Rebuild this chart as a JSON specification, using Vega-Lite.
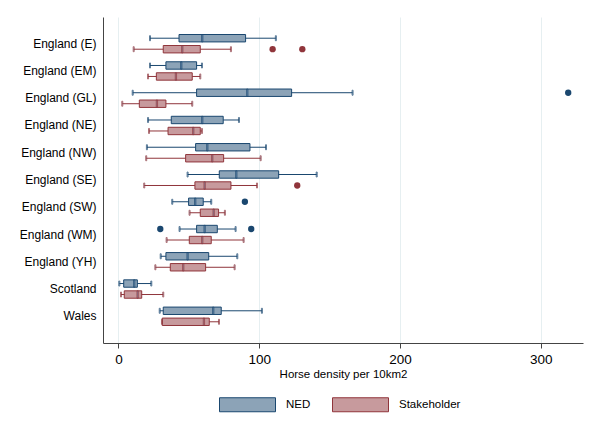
{
  "$schema": "https://vega.github.io/schema/vega-lite/v6.json",
  "width": 480,
  "height": 326,
  "autosize": "none",
  "padding": {"left": 103, "top": 17, "right": 17, "bottom": 94},
  "background": "white",
  "config": {
    "view": {"stroke": null},
    "font": "Liberation Sans",
    "axis": {"labelFont": "Liberation Sans", "titleFont": "Liberation Sans", "labelColor": "#000", "titleColor": "#000", "domainColor": "#444", "tickColor": "#444"},
    "legend": {"labelFont": "Liberation Sans", "labelFontSize": 11.5, "labelColor": "#000"}
  },
  "datasets": {
    "boxes": [
      {"region": "England (E)", "group": "NED", "wlo": 22.4, "q1": 43, "med": 59.5, "q3": 90.3, "whi": 111.8},
      {"region": "England (E)", "group": "Stakeholder", "wlo": 10.8, "q1": 31.8, "med": 45.3, "q3": 58.1, "whi": 79.9},
      {"region": "England (EM)", "group": "NED", "wlo": 22.4, "q1": 33.7, "med": 44.6, "q3": 55.5, "whi": 59.3},
      {"region": "England (EM)", "group": "Stakeholder", "wlo": 21, "q1": 26.9, "med": 40.8, "q3": 52.4, "whi": 58.1},
      {"region": "England (GL)", "group": "NED", "wlo": 10.1, "q1": 55.5, "med": 91.5, "q3": 123, "whi": 166.3},
      {"region": "England (GL)", "group": "Stakeholder", "wlo": 2.7, "q1": 14.8, "med": 27.3, "q3": 33.7, "whi": 52.4},
      {"region": "England (NE)", "group": "NED", "wlo": 21, "q1": 37.5, "med": 59.5, "q3": 74.4, "whi": 85.6},
      {"region": "England (NE)", "group": "Stakeholder", "wlo": 21.7, "q1": 35.2, "med": 53.1, "q3": 58.1, "whi": 59.3},
      {"region": "England (NW)", "group": "NED", "wlo": 20.2, "q1": 54.8, "med": 63.1, "q3": 93.4, "whi": 104.8},
      {"region": "England (NW)", "group": "Stakeholder", "wlo": 19.7, "q1": 47.7, "med": 66.6, "q3": 74.7, "whi": 101},
      {"region": "England (SE)", "group": "NED", "wlo": 49.1, "q1": 71.6, "med": 83.7, "q3": 113.8, "whi": 140.8},
      {"region": "England (SE)", "group": "Stakeholder", "wlo": 18.3, "q1": 54.3, "med": 61.2, "q3": 79.9, "whi": 98.4},
      {"region": "England (SW)", "group": "NED", "wlo": 38.2, "q1": 49.8, "med": 54.5, "q3": 60.2, "whi": 65.9},
      {"region": "England (SW)", "group": "Stakeholder", "wlo": 50.5, "q1": 58.1, "med": 67.6, "q3": 71.1, "whi": 75.6},
      {"region": "England (WM)", "group": "NED", "wlo": 43.4, "q1": 55.5, "med": 61.2, "q3": 70.2, "whi": 83.2},
      {"region": "England (WM)", "group": "Stakeholder", "wlo": 34.2, "q1": 50.3, "med": 59.5, "q3": 65.9, "whi": 88.9},
      {"region": "England (YH)", "group": "NED", "wlo": 30, "q1": 33.7, "med": 49.1, "q3": 64.1, "whi": 84.4},
      {"region": "England (YH)", "group": "Stakeholder", "wlo": 26.2, "q1": 36.8, "med": 46, "q3": 61.9, "whi": 82.5},
      {"region": "Scotland", "group": "NED", "wlo": 0.6, "q1": 3.7, "med": 11.2, "q3": 13.4, "whi": 23.3},
      {"region": "Scotland", "group": "Stakeholder", "wlo": 1.8, "q1": 4.1, "med": 13.6, "q3": 16.5, "whi": 31.8},
      {"region": "Wales", "group": "NED", "wlo": 29.3, "q1": 31.8, "med": 67.3, "q3": 73, "whi": 101.9},
      {"region": "Wales", "group": "Stakeholder", "wlo": 30.9, "q1": 31.1, "med": 60.7, "q3": 64.5, "whi": 71.4}
    ],
    "outliers": [
      {"region": "England (E)", "group": "Stakeholder", "value": 109.5},
      {"region": "England (E)", "group": "Stakeholder", "value": 130.6},
      {"region": "England (GL)", "group": "NED", "value": 319.5},
      {"region": "England (SE)", "group": "Stakeholder", "value": 127},
      {"region": "England (SW)", "group": "NED", "value": 89.8},
      {"region": "England (WM)", "group": "NED", "value": 29.7},
      {"region": "England (WM)", "group": "NED", "value": 94.3}
    ]
  },
  "encoding": {
    "y": {
      "field": "region", "type": "nominal", "sort": null,
      "scale": {"paddingInner": 0, "paddingOuter": 0.48},
      "axis": {"title": null, "ticks": false, "labelFontSize": 12, "labelPadding": 7, "grid": false, "domainColor": "#444"}
    },
    "yOffset": {
      "field": "group", "type": "nominal",
      "scale": {"domain": ["NED", "Stakeholder"], "paddingInner": 0.327, "paddingOuter": 0.403}
    }
  },
  "layer": [
    {
      "data": {"name": "boxes"},
      "mark": {"type": "rule", "strokeWidth": 1},
      "encoding": {
        "x": {
          "field": "wlo", "type": "quantitative",
          "scale": {"domain": [-11, 330], "nice": false, "zero": false},
          "axis": {"title": "Horse density per 10km2", "values": [0, 100, 200, 300], "grid": true, "gridColor": "#e6eff1", "tickSize": 5, "labelFontSize": 13.5, "labelPadding": 4, "titleFontSize": 11.5, "titleFontWeight": "normal", "titlePadding": 3}
        },
        "x2": {"field": "whi"},
        "stroke": {"field": "group", "type": "nominal", "title": null, "scale": {"domain": ["NED", "Stakeholder"], "range": ["#1a476f", "#90353b"]}}
      }
    },
    {
      "data": {"name": "boxes"},
      "mark": {"type": "bar", "strokeWidth": 1, "fillOpacity": 1},
      "encoding": {
        "x": {"field": "q1", "type": "quantitative"},
        "x2": {"field": "q3"},
        "fill": {"field": "group", "type": "nominal", "title": null, "scale": {"domain": ["NED", "Stakeholder"], "range": ["#8ca3b7", "#c79a9d"]},
          "legend": {"orient": "none", "direction": "horizontal", "legendX": 116, "legendY": 359, "symbolType": "M-1,-0.25H1V0.25H-1Z", "symbolSize": 3136, "symbolStrokeWidth": 1, "labelOffset": 10, "columnPadding": 19, "padding": 0}},
        "stroke": {"field": "group", "type": "nominal", "title": null}
      }
    },
    {
      "data": {"name": "boxes"},
      "mark": {"type": "tick", "size": 7.4, "thickness": 1.3},
      "encoding": {
        "x": {"field": "med", "type": "quantitative"},
        "stroke": {"field": "group", "type": "nominal", "title": null}
      }
    },
    {
      "data": {"name": "boxes"},
      "mark": {"type": "tick", "size": 5, "thickness": 1},
      "encoding": {
        "x": {"field": "wlo", "type": "quantitative"},
        "stroke": {"field": "group", "type": "nominal", "title": null}
      }
    },
    {
      "data": {"name": "boxes"},
      "mark": {"type": "tick", "size": 5, "thickness": 1},
      "encoding": {
        "x": {"field": "whi", "type": "quantitative"},
        "stroke": {"field": "group", "type": "nominal", "title": null}
      }
    },
    {
      "data": {"name": "outliers"},
      "transform": [{"filter": "datum.group === 'NED'"}],
      "mark": {"type": "point", "shape": "circle", "filled": true, "size": 40, "color": "#1a476f", "opacity": 1},
      "encoding": {
        "x": {"field": "value", "type": "quantitative"}
      }
    },
    {
      "data": {"name": "outliers"},
      "transform": [{"filter": "datum.group === 'Stakeholder'"}],
      "mark": {"type": "point", "shape": "circle", "filled": true, "size": 40, "color": "#90353b", "opacity": 1},
      "encoding": {
        "x": {"field": "value", "type": "quantitative"}
      }
    }
  ]
}
